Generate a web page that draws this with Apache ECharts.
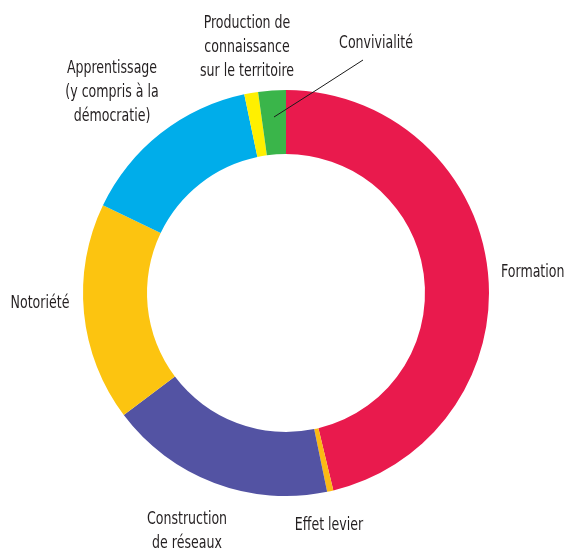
<!DOCTYPE html>
<html>
<head>
<meta charset="utf-8">
<script src="https://cdn.jsdelivr.net/npm/echarts@6/dist/echarts.min.js"></script>
<style>html,body{margin:0;padding:0;background:#fff}#c{width:566px;height:553px}</style>
</head>
<body>
<div id="c"></div>
<script>
var categories = ['Formation', 'Effet levier', 'Construction\nde réseaux', 'Notoriété', 'Apprentissage\n(y compris à la\ndémocratie)', 'Production de\nconnaissance\nsur le territoire', 'Convivialité'];
var values = [46.3, 0.5, 18.0, 17.4, 14.6, 1.1, 2.2];
var colors = ['#e91a4d', '#fbb914', '#5353a3', '#fcc410', '#00adea', '#fff000', '#3ab54a'];
var labelPos = [[501, 272, 'left'], [329, 525, 'center'], [187, 531, 'center'], [40, 303, 'center'], [112, 92.5, 'center'], [247, 47, 'center'], [376, 43, 'center']];
var leaderIndex = 6;
var leaderPoints = [[274, 117], [318, 89], [363, 60]];
var textScaleY = 1.3;

var labelBase = {
  show: true,
  position: 'outside',
  fontFamily: '"DejaVu Sans Condensed", "DejaVu Sans", sans-serif',
  fontSize: 14,
  lineHeight: 18.5,
  color: '#231f20',
  align: 'center'
};
function layout(p) {
  var pos = labelPos[p.dataIndex];
  var o = {x: pos[0], y: pos[1], align: pos[2], verticalAlign: 'middle'};
  if (p.dataIndex === leaderIndex) o.labelLinePoints = leaderPoints;
  return o;
}

var chart = echarts.init(document.getElementById('c'), null, {renderer: 'canvas'});
chart.setOption({
  animation: false,
  series: [{
    type: 'pie',
    z: 2,
    center: [286, 293],
    radius: [139, 203],
    startAngle: 90,
    clockwise: true,
    avoidLabelOverlap: false,
    itemStyle: {borderWidth: 0},
    label: labelBase,
    labelLine: {show: false},
    emphasis: {disabled: true},
    data: categories.map(function (c, i) {
      var d = {name: c, value: values[i], itemStyle: {color: colors[i]}};
      if (i === leaderIndex) d.label = {show: false};
      return d;
    }),
    labelLayout: layout
  }, {
    // transparent overlay carrying the Convivialité label and its leader line above the ring
    type: 'pie',
    z: 5,
    silent: true,
    center: [286, 293],
    radius: [139, 203],
    startAngle: 90,
    clockwise: true,
    avoidLabelOverlap: false,
    itemStyle: {color: 'rgba(0,0,0,0)', borderWidth: 0},
    label: echarts.util.extend(echarts.util.clone(labelBase), {show: false}),
    labelLine: {show: false},
    emphasis: {disabled: true},
    data: categories.map(function (c, i) {
      var d = {name: c, value: values[i]};
      if (i === leaderIndex) {
        d.label = {show: true};
        d.labelLine = {show: true, lineStyle: {color: '#1a1a1a', width: 1}};
      }
      return d;
    }),
    labelLayout: layout
  }]
});
// stretch label text vertically to mimic the condensed typeface of the original
for (var s = 0; s < 2; s++) {
  var seriesData = chart.getModel().getSeriesByIndex(s).getData();
  for (var i = 0; i < categories.length; i++) {
    var el = seriesData.getItemGraphicEl(i);
    var t = el && el.getTextContent();
    if (t) { t.scaleY = textScaleY; t.markRedraw(); }
  }
}
</script>
</body>
</html>
